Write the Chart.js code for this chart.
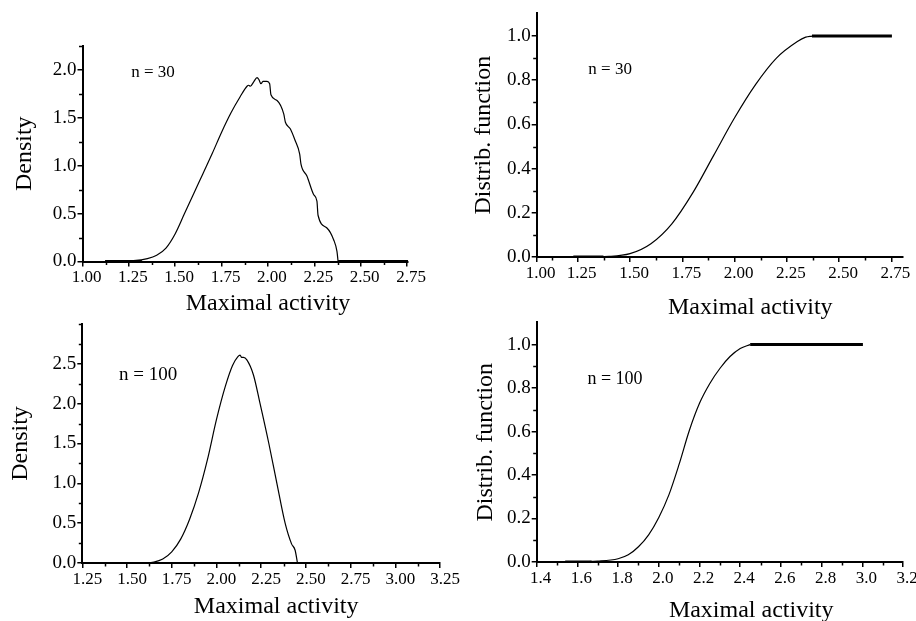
<!DOCTYPE html>
<html>
<head>
<meta charset="utf-8">
<script src="https://cdn.jsdelivr.net/npm/chart.js@4.4.1/dist/chart.umd.min.js"></script>
<style>
  html, body { margin: 0; padding: 0; background: #fff; }
  #wrap { position: relative; width: 916px; height: 621px; overflow: hidden; background: #fff; }
  canvas { position: absolute; }
</style>
</head>
<body>
<div id="wrap">
  <canvas id="densA" width="458" height="320" style="left:0;top:0"></canvas>
  <canvas id="cdfA" width="458" height="320" style="left:458px;top:0"></canvas>
  <canvas id="densB" width="470" height="311" style="left:0;top:310px"></canvas>
  <canvas id="cdfB" width="458" height="311" style="left:458px;top:310px"></canvas>
</div>
<script>
// n = 30 : density estimate
const dens30X = [1.122, 1.275, 1.35, 1.40, 1.45, 1.50, 1.55, 1.60, 1.65, 1.70, 1.75, 1.80, 1.85, 1.887, 1.896, 1.905, 1.923, 1.941, 1.951, 1.962, 1.973, 1.995, 2.009, 2.016, 2.049, 2.085, 2.094, 2.121, 2.147, 2.171, 2.178, 2.21, 2.246, 2.264, 2.27, 2.318, 2.354, 2.372, 2.378];
const dens30Y = [0.003, 0.01, 0.03, 0.065, 0.14, 0.29, 0.50, 0.71, 0.92, 1.13, 1.35, 1.55, 1.72, 1.83, 1.84, 1.83, 1.875, 1.92, 1.90, 1.856, 1.88, 1.881, 1.856, 1.741, 1.681, 1.541, 1.454, 1.384, 1.261, 1.121, 1.016, 0.893, 0.70, 0.63, 0.483, 0.35, 0.228, 0.105, 0];
const dens30LowX = [1.122, 1.32];
const dens30HighX = [2.378, 2.755];

// n = 30 : distribution function
const cdf30X = [1.229, 1.40, 1.50, 1.60, 1.70, 1.80, 1.90, 2.00, 2.10, 2.20, 2.30, 2.34, 2.37];
const cdf30Y = [0, 0.003, 0.015, 0.06, 0.15, 0.29, 0.46, 0.63, 0.78, 0.90, 0.975, 0.995, 1.0];
const cdf30LowX = [1.229, 1.373];
const cdf30HighX = [2.37, 2.752];

// n = 100 : density estimate
const dens100X = [1.591, 1.65, 1.70, 1.75, 1.80, 1.85, 1.90, 1.95, 2.00, 2.05, 2.09, 2.12, 2.132, 2.141, 2.151, 2.17, 2.207, 2.244, 2.293, 2.338, 2.384, 2.42, 2.44, 2.453];
const dens100Y = [0, 0.012, 0.05, 0.14, 0.30, 0.55, 0.88, 1.30, 1.80, 2.22, 2.48, 2.59, 2.61, 2.58, 2.58, 2.55, 2.36, 2.0, 1.5, 1.0, 0.5, 0.24, 0.16, 0];

// n = 100 : distribution function
const cdf100X = [1.54, 1.70, 1.80, 1.85, 1.90, 1.95, 2.00, 2.05, 2.10, 2.15, 2.20, 2.25, 2.30, 2.35, 2.40, 2.449];
const cdf100Y = [0, 0.004, 0.015, 0.033, 0.07, 0.125, 0.205, 0.31, 0.45, 0.605, 0.73, 0.82, 0.89, 0.945, 0.982, 1.0];
const cdf100LowX = [1.54, 1.67];
const cdf100HighX = [2.449, 3.003];

// tick values and labels
const densAXTicks = [1.00, 1.25, 1.50, 1.75, 2.00, 2.25, 2.50, 2.75];
const densAXLabels = ["1.00", "1.25", "1.50", "1.75", "2.00", "2.25", "2.50", "2.75"];
const densAXMinor = [1.125, 1.375, 1.625, 1.875, 2.125, 2.375, 2.625];
const densAYTicks = [0, 0.5, 1.0, 1.5, 2.0];
const densAYLabels = ["0.0", "0.5", "1.0", "1.5", "2.0"];
const densAYMinor = [0.25, 0.75, 1.25, 1.75, 2.25];

// the first label sits at the axis start, left of where 1.00 would be
const cdfAXTicks = [1.054, 1.25, 1.50, 1.75, 2.00, 2.25, 2.50, 2.75];
const cdfAXLabels = ["1.00", "1.25", "1.50", "1.75", "2.00", "2.25", "2.50", "2.75"];
const cdfAXMinor = [1.125, 1.375, 1.625, 1.875, 2.125, 2.375, 2.625];
const cdfYTicks = [0, 0.2, 0.4, 0.6, 0.8, 1.0];
const cdfYLabels = ["0.0", "0.2", "0.4", "0.6", "0.8", "1.0"];
const cdfYMinor = [0.1, 0.3, 0.5, 0.7, 0.9];

const densBXTicks = [1.25, 1.50, 1.75, 2.00, 2.25, 2.50, 2.75, 3.00, 3.25];
const densBXLabels = ["1.25", "1.50", "1.75", "2.00", "2.25", "2.50", "2.75", "3.00", "3.25"];
const densBXMinor = [1.375, 1.625, 1.875, 2.125, 2.375, 2.625, 2.875, 3.125];
const densBYTicks = [0, 0.5, 1.0, 1.5, 2.0, 2.5];
const densBYLabels = ["0.0", "0.5", "1.0", "1.5", "2.0", "2.5"];
const densBYMinor = [0.25, 0.75, 1.25, 1.75, 2.25, 2.75, 3.0];

const cdfBXTicks = [1.4, 1.6, 1.8, 2.0, 2.2, 2.4, 2.6, 2.8, 3.0, 3.2];
const cdfBXLabels = ["1.4", "1.6", "1.8", "2.0", "2.2", "2.4", "2.6", "2.8", "3.0", "3.2"];
const cdfBXMinor = [1.5, 1.7, 1.9, 2.1, 2.3, 2.5, 2.7, 2.9, 3.1];

const FONT = "'Liberation Serif', 'Times New Roman', serif";

const toPoints = (xs, ys) => xs.map((x, i) => ({ x: x, y: ys[i] }));
const flat = (xs, level) => xs.map(x => ({ x: x, y: level }));

// short minor ticks on both axes
const minorTicks = {
  id: "minorTicks",
  afterDraw(chart, args, opts) {
    const ctx = chart.ctx;
    const xs = chart.scales.x, ys = chart.scales.y;
    ctx.save();
    ctx.strokeStyle = "#000";
    ctx.lineWidth = 1.5;
    (opts.x || []).forEach(v => {
      const px = Math.round(xs.getPixelForValue(v)) + 0.5;
      ctx.beginPath();
      ctx.moveTo(px, xs.top);
      ctx.lineTo(px, xs.top + 3.5);
      ctx.stroke();
    });
    (opts.y || []).forEach(v => {
      const py = Math.round(ys.getPixelForValue(v)) + 0.5;
      ctx.beginPath();
      ctx.moveTo(ys.right, py);
      ctx.lineTo(ys.right - 3.5, py);
      ctx.stroke();
    });
    ctx.restore();
  }
};

// x axis title (sits right of centre in the original) and the "n = .." note
const panelText = {
  id: "panelText",
  afterDraw(chart, args, opts) {
    const { ctx, chartArea, scales } = chart;
    ctx.save();
    ctx.fillStyle = "#000";
    ctx.textAlign = "center";
    ctx.textBaseline = "middle";
    ctx.font = "24px " + FONT;
    ctx.fillText(opts.xTitle, scales.x.getPixelForValue(opts.titleAt), chartArea.bottom + opts.titleDrop);
    ctx.font = opts.noteSize + "px " + FONT;
    ctx.fillText(opts.note, scales.x.getPixelForValue(opts.noteAt[0]), scales.y.getPixelForValue(opts.noteAt[1]));
    ctx.restore();
  }
};

function makePanel(id, cfg) {
  const datasets = [
    { data: toPoints(cfg.curveX, cfg.curveY), borderWidth: 1.2, cubicInterpolationMode: "monotone" }
  ];
  cfg.flats.forEach(f => datasets.push({ data: flat(f.x, f.level), borderWidth: 3 }));

  new Chart(document.getElementById(id), {
    type: "line",
    data: { datasets: datasets },
    options: {
      responsive: false,
      animation: false,
      events: [],
      layout: { padding: cfg.padding },
      elements: {
        point: { radius: 0 },
        line: { borderColor: "#000", fill: false }
      },
      plugins: {
        legend: { display: false },
        tooltip: { enabled: false },
        minorTicks: { x: cfg.xMinor, y: cfg.yMinor },
        panelText: cfg.text
      },
      scales: {
        x: {
          type: "linear",
          min: cfg.xMin,
          max: cfg.xMax,
          afterBuildTicks: s => { s.ticks = cfg.xTicks.map(v => ({ value: v })); },
          afterFit: s => { s.height = cfg.xHeight; },
          border: { color: "#000", width: 2 },
          grid: { drawOnChartArea: false, tickLength: 5, color: "#000", lineWidth: 1.5 },
          ticks: {
            color: "#000",
            font: { family: FONT, size: 17 },
            padding: 1,
            labelOffset: cfg.labelOffset,
            maxRotation: 0,
            autoSkip: false,
            callback: (v, i) => cfg.xLabels[i]
          }
        },
        y: {
          min: 0,
          max: cfg.yMax,
          afterBuildTicks: s => { s.ticks = cfg.yTicks.map(v => ({ value: v })); },
          afterFit: s => { s.width = cfg.yWidth; },
          border: { color: "#000", width: 2 },
          grid: { drawOnChartArea: false, tickLength: 5, color: "#000", lineWidth: 1.5 },
          ticks: {
            color: "#000",
            font: { family: FONT, size: 19 },
            padding: 1,
            autoSkip: false,
            callback: (v, i) => cfg.yLabels[i]
          },
          title: {
            display: true,
            text: cfg.yTitle,
            color: "#000",
            font: { family: FONT, size: 24 },
            padding: { top: cfg.yTitlePad, bottom: 0 }
          }
        }
      }
    },
    plugins: [minorTicks, panelText]
  });
}

makePanel("densA", {
  curveX: dens30X, curveY: dens30Y,
  flats: [{ x: dens30LowX, level: 0 }, { x: dens30HighX, level: 0 }],
  xMin: 1.0, xMax: 2.755, xTicks: densAXTicks, xLabels: densAXLabels, xMinor: densAXMinor,
  yMax: 2.25, yTicks: densAYTicks, yLabels: densAYLabels, yMinor: densAYMinor,
  padding: { left: 0, top: 46, right: 50, bottom: 0 },
  yWidth: 82.5, xHeight: 58.5, labelOffset: 4,
  yTitle: "Density", yTitlePad: 10.5,
  text: { xTitle: "Maximal activity", titleAt: 2.0, titleDrop: 42.5, note: "n = 30", noteSize: 17, noteAt: [1.38, 1.97] }
});

makePanel("cdfA", {
  curveX: cdf30X, curveY: cdf30Y,
  flats: [{ x: cdf30LowX, level: 0 }, { x: cdf30HighX, level: 1 }],
  xMin: 1.054, xMax: 2.805, xTicks: cdfAXTicks, xLabels: cdfAXLabels, xMinor: cdfAXMinor,
  yMax: 1.103, yTicks: cdfYTicks, yLabels: cdfYLabels, yMinor: cdfYMinor,
  padding: { left: 0, top: 13.3, right: 13, bottom: 0 },
  yWidth: 78.7, xHeight: 63, labelOffset: 4,
  yTitle: "Distrib. function", yTitlePad: 11.6,
  text: { xTitle: "Maximal activity", titleAt: 2.075, titleDrop: 51, note: "n = 30", noteSize: 17, noteAt: [1.405, 0.847] }
});

makePanel("densB", {
  curveX: dens100X, curveY: dens100Y,
  flats: [],
  xMin: 1.25, xMax: 3.25, xTicks: densBXTicks, xLabels: densBXLabels, xMinor: densBXMinor,
  yMax: 3.0, yTicks: densBYTicks, yLabels: densBYLabels, yMinor: densBYMinor,
  padding: { left: 0, top: 14, right: 30, bottom: 0 },
  yWidth: 82.3, xHeight: 58, labelOffset: 5,
  yTitle: "Density", yTitlePad: 6,
  text: { xTitle: "Maximal activity", titleAt: 2.334, titleDrop: 44, note: "n = 100", noteSize: 19, noteAt: [1.618, 2.36] }
});

makePanel("cdfB", {
  curveX: cdf100X, curveY: cdf100Y,
  flats: [{ x: cdf100LowX, level: 0 }, { x: cdf100HighX, level: 1 }],
  xMin: 1.4, xMax: 3.2, xTicks: cdfBXTicks, xLabels: cdfBXLabels, xMinor: cdfBXMinor,
  yMax: 1.102, yTicks: cdfYTicks, yLabels: cdfYLabels, yMinor: cdfYMinor,
  padding: { left: 0, top: 10.3, right: 13, bottom: 0 },
  yWidth: 78.7, xHeight: 59, labelOffset: 4,
  yTitle: "Distrib. function", yTitlePad: 13.6,
  text: { xTitle: "Maximal activity", titleAt: 2.454, titleDrop: 49, note: "n = 100", noteSize: 18, noteAt: [1.785, 0.839] }
});
</script>
</body>
</html>
